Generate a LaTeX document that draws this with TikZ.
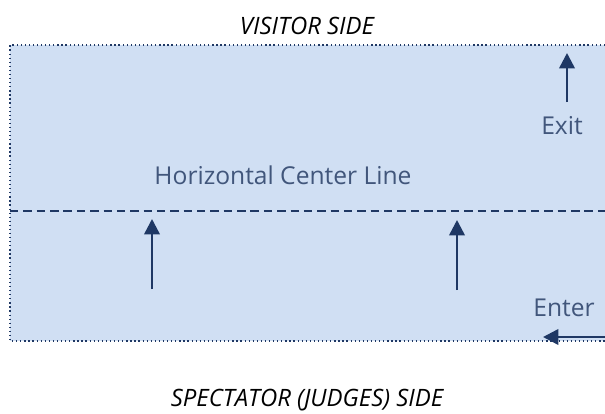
\documentclass[tikz,border=0pt]{standalone}
\usepackage{fontspec}
\setmainfont{Open Sans}
\usetikzlibrary{arrows.meta}
\definecolor{navy}{HTML}{1F3864}
\definecolor{floor}{HTML}{D0DFF3}
\tikzset{
  lbl/.style={text=navy!85,font=\fontsize{17.5}{20}\selectfont},
  side/.style={font=\fontsize{17}{20}\selectfont\itshape},
  move/.style={-{Triangle[length=11pt,width=11pt]},line width=1.8pt,draw=navy}
}
\begin{document}
\begin{tikzpicture}[x=0.025cm,y=-0.025cm]
        \useasboundingbox (0,0) rectangle (605,414);
        %floor
        \fill[floor] (10,45) rectangle (605,341);
        \draw[navy,dotted,line width=0.9pt] (605,45) -- (10,45) -- (10,341) -- (605,341);

        %center line
        \coordinate (cl) at (10,211);
        \coordinate (cr) at (605,211);
        \draw[navy,line width=1.2pt,dash pattern=on 6pt off 3.5pt] (cl) -- (cr);
        \node[lbl] (center) at (283,175) {Horizontal Center Line};

        %sides
        \node[side] (visitor) at (307,26) {VISITOR SIDE};
        \node[side] (spectator) at (307,400) {SPECTATOR (JUDGES) SIDE};

        %arrows
        \coordinate (a1) at (152,289);
        \coordinate (b1) at (152,219);
        \coordinate (a2) at (457,290);
        \coordinate (b2) at (457,220);
        \draw[move] (a1) -- (b1);
        \draw[move] (a2) -- (b2);

        %exit and enter
        \node[lbl] (exit) at (562,126) {Exit};
        \coordinate (ex1) at (567,102);
        \coordinate (ex2) at (567,53);
        \draw[move] (ex1) -- (ex2);
        \node[lbl] (enter) at (564,308) {Enter};
        \coordinate (en1) at (606,337);
        \coordinate (en2) at (543,337);
        \draw[move] (en1) -- (en2);
    \end{tikzpicture}
\end{document}
